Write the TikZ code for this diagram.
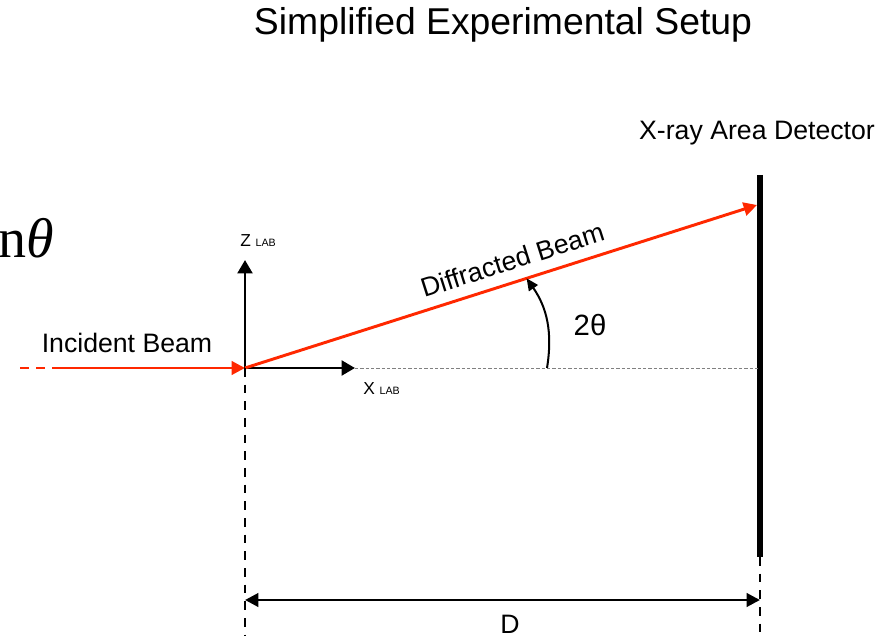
\documentclass[tikz,border=0pt]{standalone}
\usepackage{fontspec}
\newfontfamily\arialfont{Liberation Sans}
\newfontfamily\timesfont{Liberation Serif}
\usepackage{xcolor}
\usetikzlibrary{arrows.meta, positioning, calc}
\definecolor{beamred}{RGB}{255,40,0}

\begin{document}
\begin{tikzpicture}[
  x=0.75pt, y=0.75pt,
  txt/.style={font=\arialfont\fontsize{20}{24}\selectfont, text=black, inner sep=0pt},
  lab/.style={font=\arialfont\fontsize{13}{15}\selectfont, inner sep=0pt},
  beam/.style={beamred, line width=2.2pt, -{Triangle[length=10pt, width=10pt]}},
  axis/.style={black, line width=2.2pt, -{Triangle[length=10pt, width=11pt]}},
  guide/.style={black, line width=1.5pt, dash pattern=on 6.5pt off 6pt},
]
\useasboundingbox (0,0) rectangle (891,635);

% タイトル
\node[txt, font=\arialfont\fontsize{28}{32}\selectfont] (title) at (503,610) {Simplified Experimental Setup};
\node[inner sep=0pt, anchor=base east, font=\timesfont\fontsize{42}{46}\selectfont] (sinth) at (54,377) {n\textit{θ}};

% 入射ビーム
\coordinate (O) at (245,267);
\coordinate (src) at (20,267);
\coordinate (src2) at (60,267);
\draw[beamred, line width=2.2pt, dash pattern=on 7pt off 5pt] (src) -- (src2);
\draw[beam] (src2) -- (O);
\node[txt] (inc) at (127,292) {Incident Beam};

% 座標軸
\coordinate (zt) at (245,375);
\coordinate (xt) at (355,267);
\draw[axis] (O) -- (zt);
\draw[axis] (O) -- (xt);
\node[lab, anchor=south west] (zlab) at (240,388) {Z \fontsize{8}{9}\selectfont LAB};
\node[lab, anchor=south west] (xlab) at (363,240) {X \fontsize{8}{9}\selectfont LAB};

% 検出器
\coordinate (dtop) at (760,460);
\coordinate (dbot) at (760,78);
\coordinate (dfoot) at (760,0);
\coordinate (dmid) at (760,267);
\draw[line width=3.8pt] (dtop) -- (dbot);
\draw[guide] (dbot) -- (dfoot);
\node[txt] (det) at (757,502) {X-ray Area Detector};
\draw[gray, line width=0.6pt, dash pattern=on 2.5pt off 1.5pt] (xt) -- (dmid);

% 回折ビーム
\coordinate (hit) at (757,430);
\draw[beam] (O) -- (hit) node[txt, pos=0.535, sloped, above=8pt] (dif) {Diffracted Beam};
\coordinate (a0) at (547,267);
\coordinate (a1) at ($(O)!0.55!(hit)$);
\draw[line width=1.5pt, -{Triangle[length=9pt, width=8pt]}] (a0) to[bend right=22] (a1);
\node[txt, font=\arialfont\fontsize{22}{26}\selectfont] (tth) at (590,310) {2θ};

% 距離 D
\coordinate (ofoot) at (245,0);
\draw[guide] (O) -- (ofoot);
\coordinate (dl) at (245,35);
\coordinate (dr) at (760,35);
\draw[line width=2.2pt, {Triangle[length=10pt, width=10pt]}-{Triangle[length=10pt, width=10pt]}] (dl) -- (dr);
\node[txt, anchor=north] (dist) at (510,20) {D};

\end{tikzpicture}
\end{document}
